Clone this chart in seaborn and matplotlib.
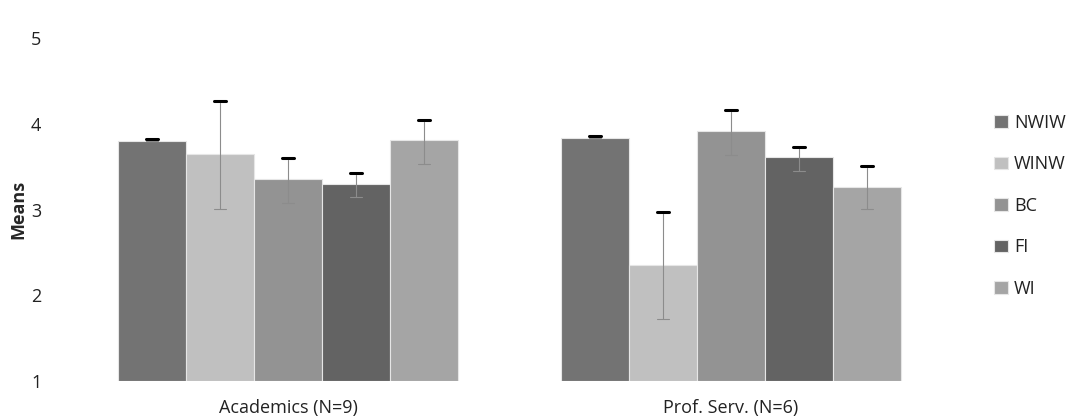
import matplotlib
matplotlib.use("Agg")
import matplotlib.pyplot as plt
import seaborn as sns
import pandas as pd
import numpy as np

groups = ["Academics (N=9)", "Prof. Serv. (N=6)"]
series = ["NWIW", "WINW", "BC", "FI", "WI"]
means_acad = [3.80, 3.65, 3.36, 3.30, 3.81]
means_prof = [3.83, 2.35, 3.91, 3.61, 3.26]
err_hi_acad = [3.80, 4.24, 3.58, 3.40, 4.02]
err_lo_acad = [3.80, 3.01, 3.08, 3.15, 3.53]
err_hi_prof = [3.83, 2.95, 4.14, 3.70, 3.48]
err_lo_prof = [3.83, 1.72, 3.64, 3.45, 3.01]
colors = ["#737373", "#c0c0c0", "#939393", "#636363", "#a5a5a5"]
yticks = [1, 2, 3, 4, 5]

sns.set_theme(style="white")
plt.rcParams["font.family"] = ["Open Sans", "DejaVu Sans"]
FS = 13

rows = []
for s, ma, mp in zip(series, means_acad, means_prof):
    rows.append({"group": groups[0], "series": s, "mean": ma})
    rows.append({"group": groups[1], "series": s, "mean": mp})
df = pd.DataFrame(rows)

fig = plt.figure(figsize=(10.81, 4.19), dpi=100)
ax = fig.add_axes([0.0615, 0.0907, 0.8196, 0.8186])

sns.barplot(data=df, x="group", y="mean", hue="series", order=groups,
            hue_order=series, palette=colors, width=0.767, gap=0,
            errorbar=None, ax=ax, edgecolor="#e6e6e6", linewidth=0.8)

# bars start at 1 (axis floor)
for cont in ax.containers:
    for bar in cont:
        h = bar.get_height()
        bar.set_y(1)
        bar.set_height(h - 1)

his = [err_hi_acad, err_hi_prof]
los = [err_lo_acad, err_lo_prof]
for si, cont in enumerate(ax.containers):
    for gi, bar in enumerate(cont):
        xc = bar.get_x() + bar.get_width() / 2
        hi = his[gi][si]
        lo = los[gi][si]
        ax.plot([xc, xc], [lo, hi], color="#8c8c8c", lw=0.8, zorder=3)
        bw = bar.get_width() * 0.17
        ax.plot([xc - bw / 2, xc + bw / 2], [lo, lo], color="#8c8c8c", lw=0.8, zorder=3)
        ax.plot([xc - bw / 2, xc + bw / 2], [hi + 0.025, hi + 0.025], color="black", lw=2.2, zorder=4)

ax.set_ylim(1, 5)
ax.set_xlim(-0.5, 1.5)
ax.set_yticks(yticks)
ax.set_yticklabels([str(t) for t in yticks], fontsize=FS, color="#222222")
ax.tick_params(axis="x", labelsize=FS, colors="#222222", length=0, pad=13)
ax.tick_params(axis="y", length=0, pad=18)
ax.set_xlabel("")
ax.set_ylabel("Means", fontsize=FS, fontweight="bold", labelpad=3)
for sp in ax.spines.values():
    sp.set_visible(False)
ax.grid(False)

leg = ax.legend(loc="upper left", bbox_to_anchor=(1.039, 0.80), frameon=False,
                fontsize=FS, handlelength=0.75, handleheight=0.7,
                handletextpad=0.35, labelspacing=1.3, borderaxespad=0)
for t in leg.get_texts():
    t.set_color("#222222")

fig.savefig("out.png", dpi=100)
